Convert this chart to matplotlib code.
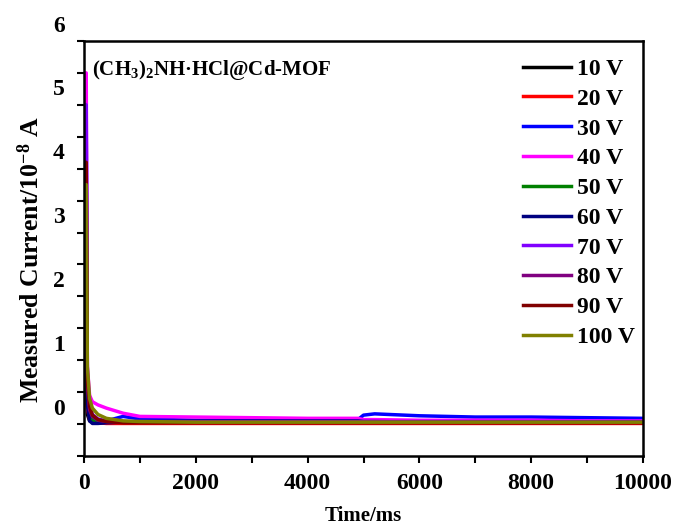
import matplotlib
matplotlib.use("Agg")
import matplotlib.pyplot as plt
from matplotlib.ticker import MultipleLocator
from matplotlib.transforms import ScaledTranslation

plt.rcParams['font.family'] = ['Liberation Serif', 'DejaVu Serif']
plt.rcParams['font.weight'] = 'bold'
plt.rcParams['mathtext.default'] = 'regular'

# ---- data ----
time_ms = [0, 40, 60, 100, 150, 250, 400, 700, 1000, 2000, 3000, 4000,
           4900, 5000, 5200, 6000, 7000, 8000, 9000, 10000]

labels = ["10 V", "20 V", "30 V", "40 V", "50 V", "60 V", "70 V", "80 V", "90 V", "100 V"]
colors = ["#000000", "#FF0000", "#0000FF", "#FF00FF", "#008000",
          "#000080", "#8000FF", "#800080", "#800000", "#808000"]

i_10V = [0.60, 0.60, 0.15, 0.05, 0.03, 0.02, 0.02, 0.02, 0.02, 0.02, 0.02, 0.02,
         0.02, 0.02, 0.02, 0.02, 0.02, 0.02, 0.02, 0.02]
i_20V = [1.20, 1.20, 0.25, 0.08, 0.04, 0.02, 0.01, 0.01, 0.01, 0.01, 0.01, 0.01,
         0.01, 0.01, 0.01, 0.01, 0.01, 0.01, 0.01, 0.01]
i_30V = [4.60, 4.60, 0.60, 0.15, 0.06, 0.04, 0.05, 0.12, 0.08, 0.06, 0.06, 0.06,
         0.07, 0.14, 0.16, 0.13, 0.11, 0.11, 0.10, 0.09]
i_40V = [5.50, 5.50, 0.90, 0.45, 0.35, 0.30, 0.25, 0.17, 0.12, 0.11, 0.10, 0.09,
         0.09, 0.07, 0.07, 0.06, 0.06, 0.06, 0.05, 0.05]
i_50V = [2.00, 2.00, 0.35, 0.10, 0.05, 0.03, 0.03, 0.03, 0.03, 0.03, 0.03, 0.03,
         0.03, 0.03, 0.03, 0.03, 0.03, 0.03, 0.03, 0.03]
i_60V = [2.50, 2.50, 0.30, 0.05, 0.01, 0.01, 0.02, 0.03, 0.04, 0.05, 0.05, 0.05,
         0.05, 0.04, 0.04, 0.03, 0.03, 0.03, 0.03, 0.03]
i_70V = [5.00, 5.00, 0.80, 0.30, 0.15, 0.08, 0.05, 0.04, 0.04, 0.04, 0.04, 0.04,
         0.04, 0.04, 0.04, 0.04, 0.04, 0.04, 0.04, 0.04]
i_80V = [3.00, 3.00, 0.60, 0.22, 0.12, 0.06, 0.04, 0.03, 0.03, 0.03, 0.03, 0.03,
         0.03, 0.03, 0.03, 0.03, 0.03, 0.03, 0.03, 0.03]
i_90V = [4.10, 4.10, 0.70, 0.28, 0.14, 0.07, 0.04, 0.02, 0.02, 0.02, 0.02, 0.02,
         0.02, 0.02, 0.02, 0.02, 0.02, 0.02, 0.02, 0.02]
i_100V = [3.75, 3.75, 0.90, 0.40, 0.25, 0.15, 0.09, 0.05, 0.04, 0.03, 0.03, 0.03,
          0.03, 0.03, 0.03, 0.03, 0.03, 0.03, 0.03, 0.03]

series = [i_10V, i_20V, i_30V, i_40V, i_50V, i_60V, i_70V, i_80V, i_90V, i_100V]

# ---- figure ----
fig = plt.figure(figsize=(6.8, 5.28), dpi=100)
ax = fig.add_axes([84/680, 1 - 456/528, (643-84)/680, (456-41)/528])

for vals, lab, col in zip(series, labels, colors):
    ax.plot(time_ms, vals, color=col, lw=2.5, label=lab)

ax.set_xlim(0, 10000)
ax.set_ylim(-0.5, 6)
ax.xaxis.set_major_locator(MultipleLocator(2000))
ax.xaxis.set_minor_locator(MultipleLocator(1000))
ax.yaxis.set_major_locator(MultipleLocator(1))
ax.yaxis.set_minor_locator(MultipleLocator(0.5))

for sp in ax.spines.values():
    sp.set_linewidth(1.8)
ax.tick_params(which='both', direction='out', length=5, width=1.5,
               top=False, right=False, labelsize=17)
ax.tick_params(axis='x', pad=7)
ax.tick_params(axis='y', pad=9)

ax.set_yticks([0, 1, 2, 3, 4, 5, 6])
ax.set_yticklabels(['0', '1', '2', '3', '4', '5', '6'], fontweight='bold')
ax.set_xticks([0, 2000, 4000, 6000, 8000, 10000])
ax.set_xticklabels(['0', '2000', '4000', '6000', '8000', '10000'], fontweight='bold')
off = ScaledTranslation(0, 17.5/100, fig.dpi_scale_trans)
for lab in ax.get_yticklabels():
    lab.set_transform(lab.get_transform() + off)

ax.set_xlabel("Time/ms", fontsize=15, fontweight='bold')
ax.set_ylabel("Measured Current/10$^{-8}$ A", fontsize=18.5, fontweight='bold')
ax.xaxis.set_label_coords(0.5, -0.12)
ax.yaxis.set_label_coords(-0.072, 0.472)

ax.text(0.014, 0.96, "(CH$_3$)$_2$NH·HCl@Cd-MOF", transform=ax.transAxes,
        fontsize=15, fontweight='bold', va='top', ha='left')

leg = ax.legend(loc='upper left', bbox_to_anchor=(0.785, 0.958), frameon=False,
                fontsize=17, handlelength=2.03, handletextpad=0.25,
                labelspacing=0.35, borderpad=0, borderaxespad=0)
for h in leg.get_lines():
    h.set_linewidth(2.5)

fig.savefig("out.png", dpi=100)
